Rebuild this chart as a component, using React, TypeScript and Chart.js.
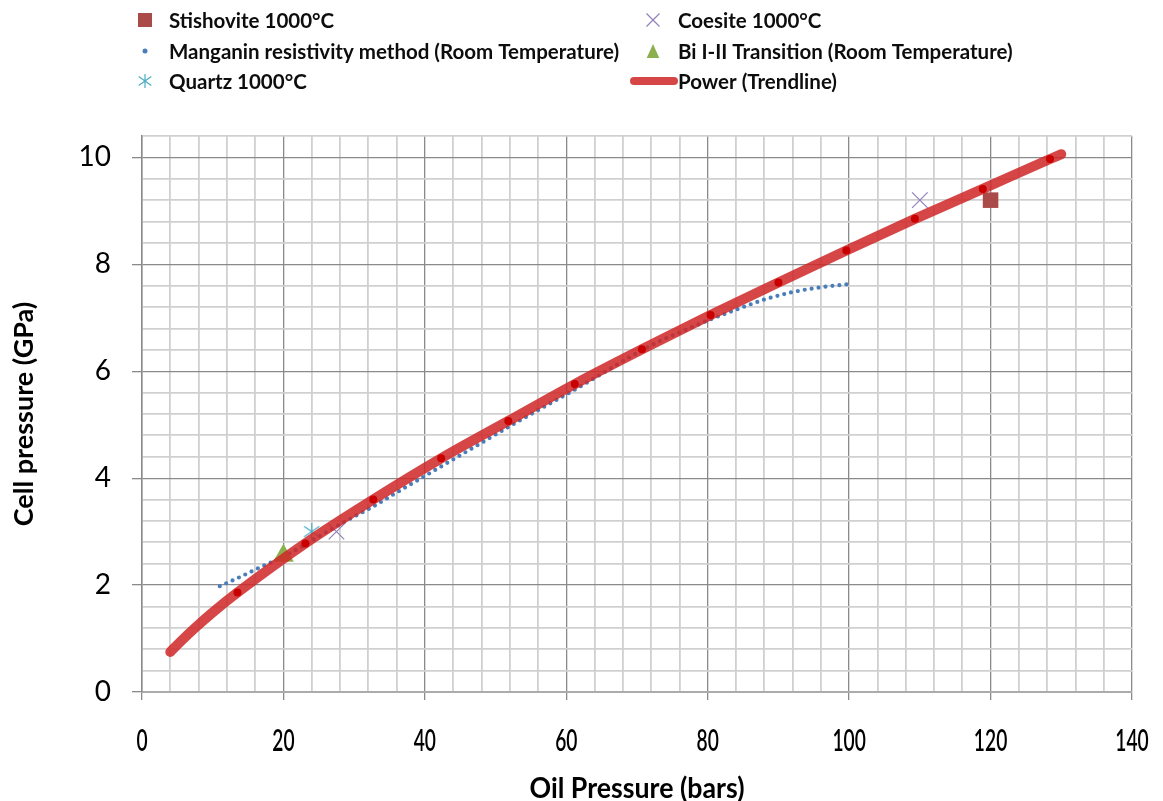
import React, { useEffect, useRef } from 'react';
import { Chart, registerables } from 'chart.js';

Chart.register(...registerables);

// ---------- data ----------
const trendX = [4, 5.5, 7.5, 10, 13.5, 23.1, 32.7, 42.3, 51.8, 61.2, 70.7, 80.4, 90, 99.6, 109.3, 118.9, 128.4, 130];
const trendY = [0.75, 0.95, 1.2, 1.49, 1.86, 2.78, 3.6, 4.37, 5.07, 5.76, 6.41, 7.05, 7.66, 8.26, 8.85, 9.41, 9.97, 10.06];

const manganinX = [11, 14, 17, 19, 21, 23, 25, 27.5, 30, 32.7, 36, 40, 44, 48, 52, 56, 61, 65, 69.3, 73, 77, 80.6, 84, 88, 92, 96, 100];
const manganinY = [1.98, 2.16, 2.35, 2.47, 2.6, 2.75, 2.91, 3.1, 3.28, 3.47, 3.73, 4.04, 4.35, 4.66, 4.97, 5.27, 5.64, 5.95, 6.29, 6.55, 6.78, 6.98, 7.15, 7.34, 7.48, 7.57, 7.63];

const stishoviteX = [120];
const stishoviteY = [9.2];
const coesiteX = [110, 27.5];
const coesiteY = [9.2, 3.0];
const quartzX = [24];
const quartzY = [3.0];
const bismuthX = [20];
const bismuthY = [2.55];

const xMin = 0;
const xMax = 140;
const xStep = 4;
const xLabelEvery = 20;
const yMin = 0;
const yMax = 10.4;
const yStep = 0.4;
const yLabelEvery = 2;

const xTitle = 'Oil Pressure (bars)';
const yTitle = 'Cell pressure (GPa)';

const seriesNames = [
  'Stishovite 1000°C',
  'Coesite 1000°C',
  'Manganin resistivity method (Room Temperature)',
  'Bi I-II Transition (Room Temperature)',
  'Quartz 1000°C',
  'Power (Trendline)',
];

// ---------- styles ----------
const C_STISH = '#AA4B4A';
const C_COES = '#8F82B9';
const C_MANG = '#4A7EBB';
const C_BI = '#8DB04F';
const C_QUARTZ = '#4BACC6';
const C_TREND = 'rgba(207, 40, 40, 0.86)';
const C_TREND_DOT = '#C90000';
const GRID_MAJOR = '#8A8A8A';
const GRID_MINOR = '#D0D0D0';

const SANS = "Lato, 'Open Sans', sans-serif";

const toPts = (xs: number[], ys: number[]) => xs.map((x, i) => ({ x, y: ys[i] }));

const isMult = (v: number, m: number) => {
  const r = v / m;
  return Math.abs(r - Math.round(r)) < 1e-6;
};

function makeAsterisk(color: string, size: number, lw: number) {
  const c = document.createElement('canvas');
  c.width = size;
  c.height = size;
  const g = c.getContext('2d')!;
  drawMarker(g, 'asterisk', size / 2, size / 2, size - 2, color, lw);
  return c;
}

function drawMarker(g: CanvasRenderingContext2D, type: string, cx: number, cy: number, s: number, color: string, lw = 1.2) {
  g.save();
  const h = s / 2;
  if (type === 'square') {
    g.fillStyle = color;
    g.fillRect(cx - h, cy - h, s, s);
  } else if (type === 'dot') {
    g.fillStyle = color;
    g.beginPath();
    g.arc(cx, cy, h, 0, Math.PI * 2);
    g.fill();
  } else if (type === 'cross') {
    g.strokeStyle = color;
    g.lineWidth = lw;
    g.beginPath();
    g.moveTo(cx - h, cy - h);
    g.lineTo(cx + h, cy + h);
    g.moveTo(cx + h, cy - h);
    g.lineTo(cx - h, cy + h);
    g.stroke();
  } else if (type === 'asterisk') {
    g.strokeStyle = color;
    g.lineWidth = lw;
    g.beginPath();
    g.moveTo(cx, cy - h);
    g.lineTo(cx, cy + h);
    const d = h * 0.9;
    g.moveTo(cx - d, cy - d * 0.7);
    g.lineTo(cx + d, cy + d * 0.7);
    g.moveTo(cx + d, cy - d * 0.7);
    g.lineTo(cx - d, cy + d * 0.7);
    g.stroke();
  } else if (type === 'triangle') {
    g.fillStyle = color;
    g.beginPath();
    g.moveTo(cx, cy - h);
    g.lineTo(cx + h * 0.9, cy + h);
    g.lineTo(cx - h * 0.9, cy + h);
    g.closePath();
    g.fill();
  } else if (type === 'line') {
    g.strokeStyle = color;
    g.lineWidth = 8;
    g.lineCap = 'round';
    g.beginPath();
    g.moveTo(cx - h, cy);
    g.lineTo(cx + h, cy);
    g.stroke();
  }
  g.restore();
}

const legendItems = [
  { name: seriesNames[0], type: 'square', color: C_STISH, mx: 145, tx: 169, y: 20, s: 14 },
  { name: seriesNames[1], type: 'cross', color: C_COES, mx: 653, tx: 678, y: 20, s: 13 },
  { name: seriesNames[2], type: 'dot', color: C_MANG, mx: 145, tx: 169, y: 51, s: 5 },
  { name: seriesNames[3], type: 'triangle', color: C_BI, mx: 653, tx: 678, y: 51, s: 14 },
  { name: seriesNames[4], type: 'asterisk', color: C_QUARTZ, mx: 145, tx: 169, y: 81, s: 14 },
  { name: seriesNames[5], type: 'line', color: C_TREND, mx: 654, tx: 678, y: 81, s: 40 },
];

const legendPlugin = {
  id: 'sideLegend',
  afterDraw(chart: any) {
    const g: CanvasRenderingContext2D = chart.ctx;
    g.save();
    g.font = `bold 20.5px ${SANS}`;
    g.fillStyle = '#0d0d0d';
    g.textBaseline = 'middle';
    g.textAlign = 'left';
    for (const it of legendItems) {
      drawMarker(g, it.type, it.mx, it.y, it.s, it.color, 1.2);
      g.fillText(it.name, it.tx, it.y + 1);
    }
    g.restore();
  },
};

// x tick labels and x title are drawn condensed (as in the reference)
const xTextPlugin = {
  id: 'xCondensedText',
  afterDraw(chart: any) {
    const g: CanvasRenderingContext2D = chart.ctx;
    const xs = chart.scales.x;
    const area = chart.chartArea;
    g.save();
    g.fillStyle = '#000000';
    g.textAlign = 'center';
    g.textBaseline = 'middle';
    g.font = `600 30px ${SANS}`;
    for (const t of xs.ticks) {
      if (!isMult(t.value, xLabelEvery)) continue;
      const label = String(Math.round(t.value));
      const px = xs.getPixelForValue(t.value);
      g.save();
      g.translate(px, area.bottom + 49);
      g.scale(0.64, 1);
      g.fillText(label, 0, 0);
      g.restore();
    }
    g.font = `bold 28px ${SANS}`;
    const w = g.measureText(xTitle).width;
    g.save();
    g.translate((area.left + area.right) / 2, area.bottom + 97);
    g.scale(215 / w, 1);
    g.fillText(xTitle, 0, 0);
    g.restore();
    g.restore();
  },
};

export default function App() {
  const ref = useRef<HTMLCanvasElement | null>(null);

  useEffect(() => {
    if (!ref.current) return;
    const star = makeAsterisk(C_QUARTZ, 19, 1.2);
    const nTrend = trendX.length;

    const chart = new Chart(ref.current, {
      type: 'scatter',
      data: {
        datasets: [
          {
            label: seriesNames[5],
            data: toPts(trendX, trendY),
            showLine: true,
            borderColor: C_TREND,
            borderWidth: 10,
            borderCapStyle: 'round',
            borderJoinStyle: 'round',
            cubicInterpolationMode: 'monotone',
            pointRadius: (c: any) => (c.dataIndex >= 4 && c.dataIndex <= nTrend - 2 ? 4 : 0),
            pointBackgroundColor: C_TREND_DOT,
            pointBorderWidth: 0,
            order: 0,
          } as any,
          {
            label: seriesNames[0],
            data: toPts(stishoviteX, stishoviteY),
            pointStyle: 'rect',
            pointRadius: 11,
            pointBackgroundColor: C_STISH,
            pointBorderWidth: 0,
            order: 1,
          },
          {
            label: seriesNames[1],
            data: toPts(coesiteX, coesiteY),
            pointStyle: 'crossRot',
            pointRadius: 11,
            pointBorderColor: C_COES,
            pointBorderWidth: 1.2,
            order: 1,
          },
          {
            label: seriesNames[4],
            data: toPts(quartzX, quartzY),
            pointStyle: star as any,
            pointRadius: 9,
            order: 1,
          },
          {
            label: seriesNames[3],
            data: toPts(bismuthX, bismuthY),
            pointStyle: 'triangle',
            pointRadius: 12,
            pointBackgroundColor: C_BI,
            pointBorderWidth: 0,
            order: 1,
          },
          {
            label: seriesNames[2],
            data: toPts(manganinX, manganinY),
            showLine: true,
            borderColor: C_MANG,
            borderWidth: 4.2,
            borderDash: [0, 7],
            borderCapStyle: 'round',
            cubicInterpolationMode: 'monotone',
            pointRadius: 0,
            order: 2,
          } as any,
        ],
      },
      options: {
        animation: false,
        responsive: true,
        maintainAspectRatio: false,
        events: [],
        layout: { padding: { left: 0, right: 31, top: 136, bottom: 0 } },
        plugins: {
          legend: { display: false },
          tooltip: { enabled: false },
        },
        scales: {
          x: {
            type: 'linear',
            min: xMin,
            max: xMax,
            afterFit: (s: any) => {
              s.height = 109;
              s.paddingLeft = 0;
              s.paddingRight = 0;
            },
            ticks: {
              display: false,
              stepSize: xStep,
              autoSkip: false,
              maxRotation: 0,
              maxTicksLimit: 1000,
            },
            grid: {
              color: (c: any) => (isMult(c.tick.value, xLabelEvery) ? GRID_MAJOR : GRID_MINOR),
              lineWidth: (c: any) => (isMult(c.tick.value, xLabelEvery) ? 1.3 : 1.8),
              tickLength: 8,
              tickColor: (c: any) => (isMult(c.tick.value, xLabelEvery) ? GRID_MAJOR : 'rgba(0,0,0,0)'),
              tickWidth: 1.3,
            },
            border: { color: '#ABABAB', width: 2 },
            title: { display: false },
          },
          y: {
            type: 'linear',
            min: yMin,
            max: yMax,
            afterFit: (s: any) => {
              s.width = 142;
              s.paddingTop = 0;
              s.paddingBottom = 0;
            },
            ticks: {
              stepSize: yStep,
              autoSkip: false,
              maxTicksLimit: 1000,
              padding: 21,
              color: '#000000',
              font: { family: SANS, size: 28 },
              callback: (v: any) => (isMult(Number(v), yLabelEvery) ? String(Math.round(Number(v))) : ''),
            },
            grid: {
              color: (c: any) => (isMult(c.tick.value, yLabelEvery) ? GRID_MAJOR : GRID_MINOR),
              lineWidth: (c: any) => (isMult(c.tick.value, yLabelEvery) ? 1.3 : 1.8),
              tickLength: 10,
              tickColor: (c: any) => (isMult(c.tick.value, yLabelEvery) ? GRID_MAJOR : 'rgba(0,0,0,0)'),
              tickWidth: 1.3,
            },
            border: { color: '#8A8A8A', width: 1.5 },
            title: {
              display: true,
              text: yTitle,
              color: '#000000',
              font: { family: SANS, size: 27, weight: 'bold', lineHeight: 1 },
              padding: { top: 11, bottom: 0 },
            },
          },
        },
      },
      plugins: [legendPlugin, xTextPlugin],
    } as any);

    let alive = true;
    if ((document as any).fonts && (document as any).fonts.ready) {
      (document as any).fonts.ready.then(() => {
        if (alive) chart.update();
      });
    }

    return () => {
      alive = false;
      chart.destroy();
    };
  }, []);

  return (
    <div style={{ position: 'fixed', left: 0, top: 0, width: 1163, height: 801, background: '#ffffff' }}>
      <canvas ref={ref} />
    </div>
  );
}
